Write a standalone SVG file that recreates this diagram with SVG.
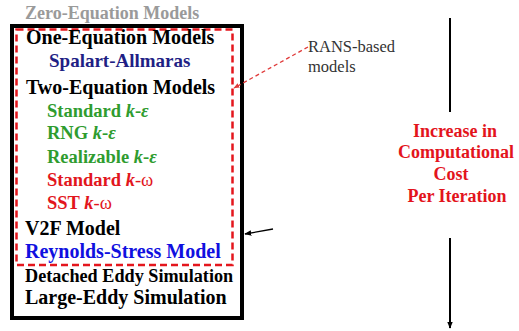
<svg xmlns="http://www.w3.org/2000/svg" width="519" height="331" viewBox="0 0 519 331">
<style>
.t{font-family:'Liberation Serif','Times New Roman','DejaVu Serif',serif;font-weight:bold}
.h{font-size:20px;fill:#000}
.s{font-size:18.5px}
.g{fill:#2f9c2f}
.r{fill:#e2161d}
.it{font-style:italic}
.lbl{font-family:'Liberation Serif','Times New Roman','DejaVu Serif',serif;font-size:16.5px;fill:#333}
.rt{font-family:'Liberation Serif','Times New Roman','DejaVu Serif',serif;font-weight:bold;font-size:18px;fill:#e3141c;text-anchor:middle}
</style>
<defs>
<marker id="ah" viewBox="0 0 10 10" refX="9" refY="5" markerWidth="7" markerHeight="7" orient="auto" markerUnits="userSpaceOnUse">
<path d="M0,1 L10,5 L0,9 Z" fill="#000"/>
</marker>
<marker id="ahr" viewBox="0 0 10 10" refX="9" refY="5" markerWidth="6" markerHeight="6" orient="auto" markerUnits="userSpaceOnUse">
<path d="M0,1 L10,5 L0,9 Z" fill="#e03a3a"/>
</marker>
</defs>
<rect width="519" height="331" fill="#fff"/>
<g id="outer-box"><rect x="12" y="26" width="230" height="292" fill="none" stroke="#000" stroke-width="4"/></g>
<g id="rans-box"><rect x="16.5" y="29.5" width="216" height="235.5" fill="none" stroke="#e4161d" stroke-width="2.5" stroke-dasharray="7 4"/></g>
<g id="models">
<text class="t" x="25" y="19" font-size="18" fill="#9a9a9a">Zero-Equation Models</text>
<text class="t h" x="26" y="44">One-Equation Models</text>
<text class="t" x="49" y="67" font-size="19" fill="#1f1f85">Spalart-Allmaras</text>
<text class="t h" x="26" y="94">Two-Equation Models</text>
<text class="t s g" x="47" y="117">Standard <tspan class="it">k</tspan>-<tspan class="it">ε</tspan></text>
<text class="t s g" x="47" y="139">RNG <tspan class="it">k</tspan>-<tspan class="it">ε</tspan></text>
<text class="t s g" x="47" y="163">Realizable <tspan class="it">k</tspan>-<tspan class="it">ε</tspan></text>
<text class="t s r" x="47" y="186">Standard <tspan class="it">k</tspan><tspan font-weight="normal">-ω</tspan></text>
<text class="t s r" x="47" y="209">SST <tspan class="it">k</tspan><tspan font-weight="normal">-ω</tspan></text>
<text class="t h" x="25" y="235">V2F Model</text>
<text class="t" x="25" y="258" font-size="20" fill="#1010e0">Reynolds-Stress Model</text>
<text class="t" x="25" y="282" font-size="18.2" fill="#000">Detached Eddy Simulation</text>
<text class="t h" x="25" y="304">Large-Eddy Simulation</text>
</g>
<g id="rans-label">
<text class="lbl" x="308" y="52">RANS-based</text>
<text class="lbl" x="308" y="72">models</text>
</g>
<g id="cost-label">
<text class="rt" x="455" y="137">Increase in</text>
<text class="rt" x="456" y="158">Computational</text>
<text class="rt" x="451" y="180">Cost</text>
<text class="rt" x="457" y="202">Per Iteration</text>
</g>
<g id="connectors">
<line x1="308" y1="47" x2="234" y2="88" stroke="#e03a3a" stroke-width="1.3" stroke-dasharray="4 3" marker-end="url(#ahr)"/>
<line x1="273" y1="229" x2="245" y2="234" stroke="#000" stroke-width="1.3" marker-end="url(#ah)"/>
<line x1="450" y1="18" x2="450" y2="112" stroke="#000" stroke-width="2"/>
<line x1="450" y1="238" x2="450" y2="328" stroke="#000" stroke-width="2" marker-end="url(#ah)"/>
</g>
</svg>
